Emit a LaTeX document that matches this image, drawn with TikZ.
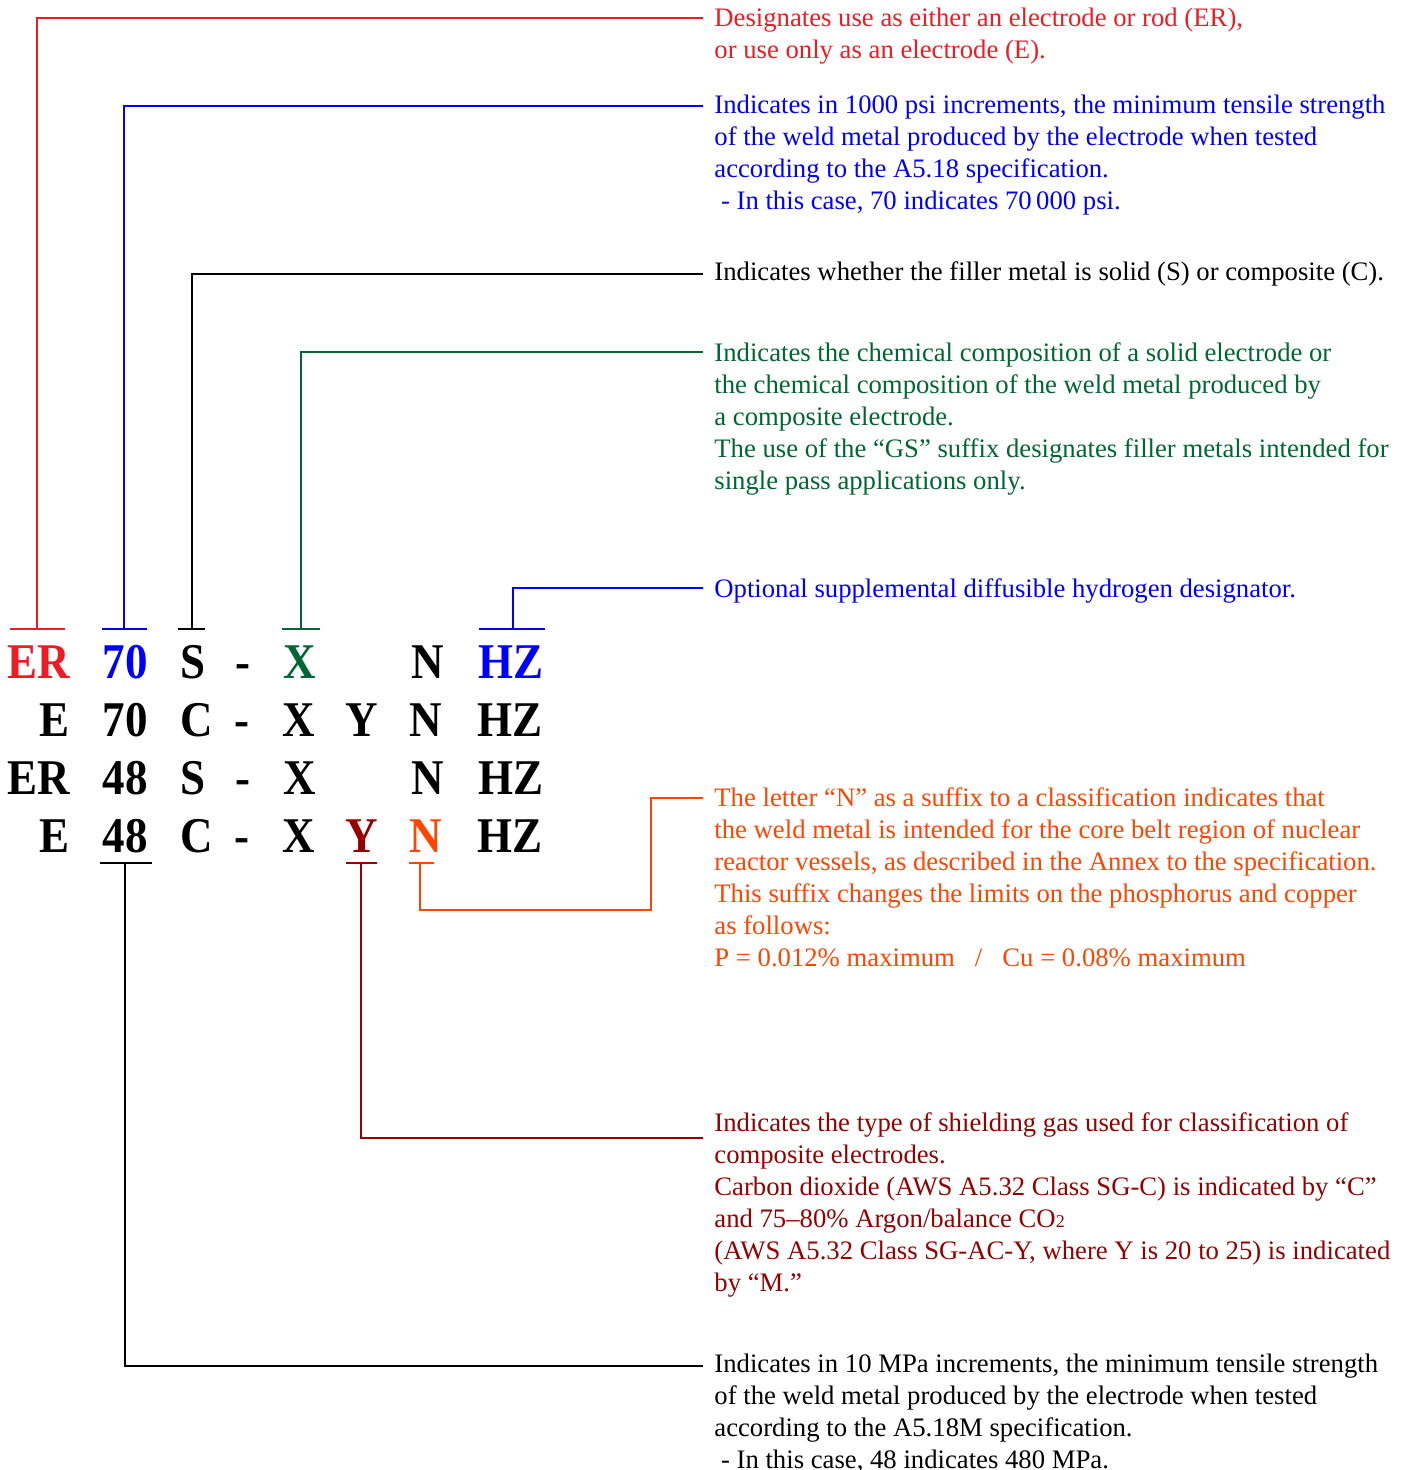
\documentclass[tikz,border=0pt]{standalone}
\usepackage{fontspec}
\setmainfont{Liberation Serif}
\newfontfamily\bigfont[FakeStretch=0.9]{Liberation Serif}
\definecolor{cred}{RGB}{237,28,36}
\definecolor{cblue}{RGB}{0,0,255}
\definecolor{cgreen}{RGB}{0,102,51}
\definecolor{cdark}{RGB}{150,0,0}
\definecolor{corange}{RGB}{255,69,0}
\newcommand\mylines[1]{\vtop{\baselineskip=16pt\lineskiplimit=-20pt\lineskip=0pt #1}}
\begin{document}
\begin{tikzpicture}[x=0.5pt,y=-0.5pt,
  big/.style={font=\bigfont\fontsize{25}{25}\selectfont\bfseries, inner sep=0pt, anchor=base},
  desc/.style={font=\fontsize{13.35}{16}\selectfont, inner sep=0pt, anchor=base west},
  lead/.style={line width=0.75pt}]
\useasboundingbox (0,0) rectangle (1402,1470);
\clip (0,0) rectangle (1402,1470);
% code letters
\node[big,anchor=base east,text=cred] (r1a) at (70,678) {ER};
\node[big,text=cblue] (r1b) at (125,678) {70};
\node[big,anchor=base west] (r1c) at (180,678) {S};
\node[big] (r1d) at (243,678) {-};
\node[big,text=cgreen] (r1e) at (300,678) {X};
\node[big] (r1g) at (428,678) {N};
\node[big,anchor=base west,text=cblue] (r1h) at (478,678) {HZ};
\node[big,anchor=base east] (r2a) at (70,736) {E};
\node[big] (r2b) at (125,736) {70};
\node[big,anchor=base west] (r2c) at (180,736) {C};
\node[big] (r2d) at (242,736) {-};
\node[big] (r2e) at (299,736) {X};
\node[big] (r2f) at (362,736) {Y};
\node[big] (r2g) at (426,736) {N};
\node[big,anchor=base west] (r2h) at (477,736) {HZ};
\node[big,anchor=base east] (r3a) at (70,794) {ER};
\node[big] (r3b) at (125,794) {48};
\node[big,anchor=base west] (r3c) at (180,794) {S};
\node[big] (r3d) at (243,794) {-};
\node[big] (r3e) at (300,794) {X};
\node[big] (r3g) at (428,794) {N};
\node[big,anchor=base west] (r3h) at (478,794) {HZ};
\node[big,anchor=base east] (r4a) at (70,852) {E};
\node[big] (r4b) at (125,852) {48};
\node[big,anchor=base west] (r4c) at (180,852) {C};
\node[big] (r4d) at (242,852) {-};
\node[big] (r4e) at (299,852) {X};
\node[big,text=cdark] (r4f) at (362,852) {Y};
\node[big,text=corange] (r4g) at (426,852) {N};
\node[big,anchor=base west] (r4h) at (477,852) {HZ};
% descriptions
\node[desc,text=cred] (dER) at (714,27) {\mylines{%
\hbox{Designates use as either an electrode or rod (ER),}
\hbox{or use only as an electrode (E).}}};
\node[desc,text=cblue] (d70) at (714,114) {\mylines{%
\hbox{Indicates in 1000 psi increments, the minimum tensile strength}
\hbox{of the weld metal produced by the electrode when tested}
\hbox{according to the A5.18 specification.}
\hbox{\ - In this case, 70 indicates 70\,000 psi.}}};
\node[desc] (dS) at (714,281) {\mylines{%
\hbox{Indicates whether the filler metal is solid (S) or composite (C).}}};
\node[desc,text=cgreen] (dX) at (714,362) {\mylines{%
\hbox{Indicates the chemical composition of a solid electrode or}
\hbox{the chemical composition of the weld metal produced by}
\hbox{a composite electrode.}
\hbox{The use of the “GS” suffix designates filler metals intended for}
\hbox{single pass applications only.}}};
\node[desc,text=cblue] (dHZ) at (714,597) {\mylines{%
\hbox{Optional supplemental diffusible hydrogen designator.}}};
\node[desc,text=corange] (dN) at (714,806) {\mylines{%
\hbox{The letter “N” as a suffix to a classification indicates that}
\hbox{the weld metal is intended for the core belt region of nuclear}
\hbox{reactor vessels, as described in the Annex to the specification.}
\hbox{This suffix changes the limits on the phosphorus and copper}
\hbox{as follows:}
\hbox{P = 0.012\% maximum \ \ / \ \ Cu = 0.08\% maximum}}};
\node[desc,text=cdark] (dY) at (714,1131) {\mylines{%
\hbox{Indicates the type of shielding gas used for classification of}
\hbox{composite electrodes.}
\hbox{Carbon dioxide (AWS A5.32 Class SG-C) is indicated by “C”}
\hbox{and 75–80\% Argon/balance CO{\fontsize{9}{9}\selectfont 2}}
\hbox{(AWS A5.32 Class SG-AC-Y, where Y is 20 to 25) is indicated}
\hbox{by “M.”}}};
\node[desc] (d48) at (714,1372) {\mylines{%
\hbox{Indicates in 10 MPa increments, the minimum tensile strength}
\hbox{of the weld metal produced by the electrode when tested}
\hbox{according to the A5.18M specification.}
\hbox{\ - In this case, 48 indicates 480 MPa.}}};
% leader end points
\coordinate (eER) at (703,18);
\coordinate (e70) at (703,106);
\coordinate (eS) at (703,274);
\coordinate (eX) at (703,352);
\coordinate (eHZ) at (703,588);
\coordinate (eN) at (703,798);
\coordinate (eY) at (703,1138);
\coordinate (e48) at (703,1366);
% leaders
\draw[lead,cred] (10,629) -- (65,629);
\draw[lead,cred] (37,629) |- (eER);
\draw[lead,cblue] (102,629) -- (147,629);
\draw[lead,cblue] (124,629) |- (e70);
\draw[lead,black] (178,629) -- (205,629);
\draw[lead,black] (192,629) |- (eS);
\draw[lead,cgreen] (282,629) -- (320,629);
\draw[lead,cgreen] (301,629) |- (eX);
\draw[lead,cblue] (479,629) -- (545,629);
\draw[lead,cblue] (513,629) |- (eHZ);
\draw[lead,black] (100,863) -- (152,863);
\draw[lead,black] (125,863) |- (e48);
\draw[lead,cdark] (346,863) -- (377,863);
\draw[lead,cdark] (361,863) |- (eY);
\draw[lead,corange] (409,863) -- (434,863);
\draw[lead,corange] (420,863) |- (651,910) |- (eN);
\end{tikzpicture}
\end{document}
